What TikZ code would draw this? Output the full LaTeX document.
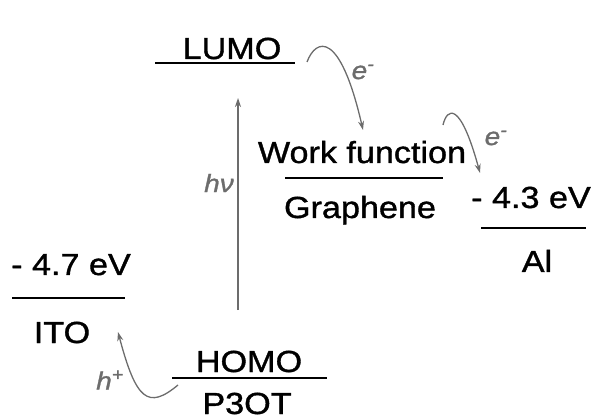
\documentclass[tikz,border=0pt]{standalone}
\usepackage{fontspec}
\setmainfont[FakeStretch=1.12, FakeBold=1.2]{Liberation Sans}
\usetikzlibrary{arrows.meta}

\begin{document}
\begin{tikzpicture}[x=1pt, y=-1pt,
  font=\fontsize{30.5}{36}\selectfont,
  lbl/.style={anchor=base, inner sep=0pt},
  level/.style={line width=2pt},
  carrier/.style={font=\fontsize{25}{28}\selectfont\itshape, text=gray!85!black, inner sep=0pt},
  transfer/.style={-{Stealth[length=9pt, width=6pt]}, line width=1.3pt, draw=gray!85!black}
]
\useasboundingbox (0,0) rectangle (591,419);

% energy levels
\coordinate (lumoL) at (155,63);  \coordinate (lumoR) at (295,63);
\coordinate (wfL) at (285,178);   \coordinate (wfR) at (443,178);
\coordinate (alL) at (481,228);   \coordinate (alR) at (586,228);
\coordinate (itoL) at (12,298);   \coordinate (itoR) at (125,298);
\coordinate (homoL) at (172,378); \coordinate (homoR) at (327,378);
\draw[level] (lumoL) -- (lumoR);
\draw[level] (wfL) -- (wfR);
\draw[level] (alL) -- (alR);
\draw[level] (itoL) -- (itoR);
\draw[level] (homoL) -- (homoR);

% labels
\node[lbl] (lumo) at (232,59) {LUMO};
\node[lbl] (wf) at (362,163) {Work function};
\node[lbl] (graphene) at (360,218) {Graphene};
\node[lbl] (alval) at (531,208) {- 4.3 eV};
\node[lbl] (al) at (537,272) {Al};
\node[lbl] (itoval) at (71,275) {- 4.7 eV};
\node[lbl] (ito) at (62,343) {ITO};
\node[lbl] (homo) at (249,372) {HOMO};
\node[lbl] (p3ot) at (247,414) {P3OT};

% excitation
\coordinate (exc0) at (238,310);
\coordinate (exc1) at (238,98);
\draw[transfer] (exc0) -- (exc1);
\node[carrier] (hnu) at (219,183) {hν};

% electron transfer
\coordinate (e1s) at (307,62);  \coordinate (e1t) at (363,130);
\draw[transfer] (e1s) .. controls (316,38) and (340,30) .. (e1t);
\node[carrier] (e1) at (363,72) {e\textsuperscript{-}};

\coordinate (e2s) at (443,125); \coordinate (e2t) at (480,173);
\draw[transfer] (e2s) .. controls (447,108) and (460,100) .. (e2t);
\node[carrier] (e2) at (496,138) {e\textsuperscript{-}};

% hole transfer
\coordinate (hs) at (178,385);  \coordinate (ht) at (118,332);
\draw[transfer] (hs) .. controls (148,410) and (136,400) .. (ht);
\node[carrier] (hp) at (110,380) {h\textsuperscript{+}};

\end{tikzpicture}
\end{document}
